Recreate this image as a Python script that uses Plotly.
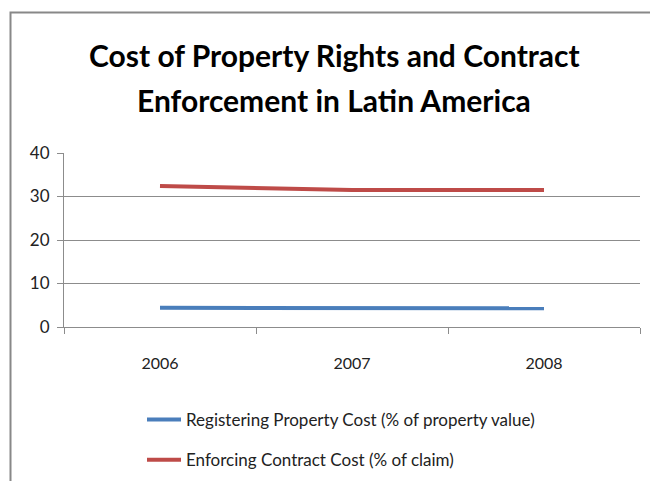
import plotly.graph_objects as go

years = ["2006", "2007", "2008"]
registering_property = [4.4, 4.3, 4.3]
enforcing_contract = [32.4, 31.5, 31.5]
series_names = [
    "Registering Property Cost (% of property value)",
    "Enforcing Contract Cost (% of claim)",
]
title_lines = ["Cost of Property Rights and Contract", "Enforcement in Latin America"]

W, H = 650, 481
L, R, T, B = 64, 10, 153, 154
pw = W - L - R
ph = H - T - B


def px_x(x):
    return (x - L) / pw


def px_y(y):
    return (H - B - y) / ph


FONT = "Lato"
GRID = "#8c8c8c"

fig = go.Figure()
fig.add_trace(go.Scatter(
    x=years, y=registering_property, mode="lines", name=series_names[0],
    line=dict(color="#4a7ebb", width=4), legendgroup="a",
))
fig.add_trace(go.Scatter(
    x=years, y=enforcing_contract, mode="lines", name=series_names[1],
    line=dict(color="#be4b48", width=4), legendgroup="b",
))

fig.update_layout(
    width=W, height=H,
    margin=dict(l=L, r=R, t=T, b=B, autoexpand=False),
    paper_bgcolor="white", plot_bgcolor="white",
    font=dict(family=FONT, size=16, color="#222"),
    showlegend=True,
    legend=dict(
        xref="container", yref="container",
        x=142 / W, y=1 - 402 / H, xanchor="left", yanchor="top",
        font=dict(family=FONT, size=17, color="#222"),
        tracegroupgap=15, itemwidth=34, bgcolor="rgba(0,0,0,0)",
    ),
    xaxis=dict(
        type="category", range=[-0.5, 2.5], showgrid=False,
        showline=True, linecolor=GRID, linewidth=1,
        ticks="outside", tickson="boundaries", ticklen=6, tickcolor=GRID,
        ticklabelstandoff=22,
        tickfont=dict(family=FONT, size=16, color="#222"),
    ),
    yaxis=dict(
        range=[0, 40], tickvals=[0, 10, 20, 30, 40],
        showgrid=True, gridcolor=GRID, gridwidth=1,
        zeroline=False,
        showline=True, linecolor=GRID, linewidth=1,
        ticks="outside", ticklen=6, tickcolor=GRID,
        ticklabelstandoff=4,
        tickfont=dict(family=FONT, size=17, color="#222"),
    ),
    shapes=[
        dict(type="rect", xref="paper", yref="paper",
             x0=px_x(10.5), x1=px_x(700), y0=px_y(12.5), y1=px_y(520),
             line=dict(color="#888888", width=2), fillcolor="rgba(0,0,0,0)",
             layer="below"),
    ],
    annotations=[
        dict(text="<b>" + title_lines[0] + "</b>", xref="paper", yref="paper",
             x=px_x(334), y=px_y(55), xanchor="center", yanchor="middle",
             showarrow=False, font=dict(family=FONT, size=30, color="#000")),
        dict(text="<b>" + title_lines[1] + "</b>", xref="paper", yref="paper",
             x=px_x(334), y=px_y(100), xanchor="center", yanchor="middle",
             showarrow=False, font=dict(family=FONT, size=30, color="#000")),
    ],
)

fig.write_html("out.html")
